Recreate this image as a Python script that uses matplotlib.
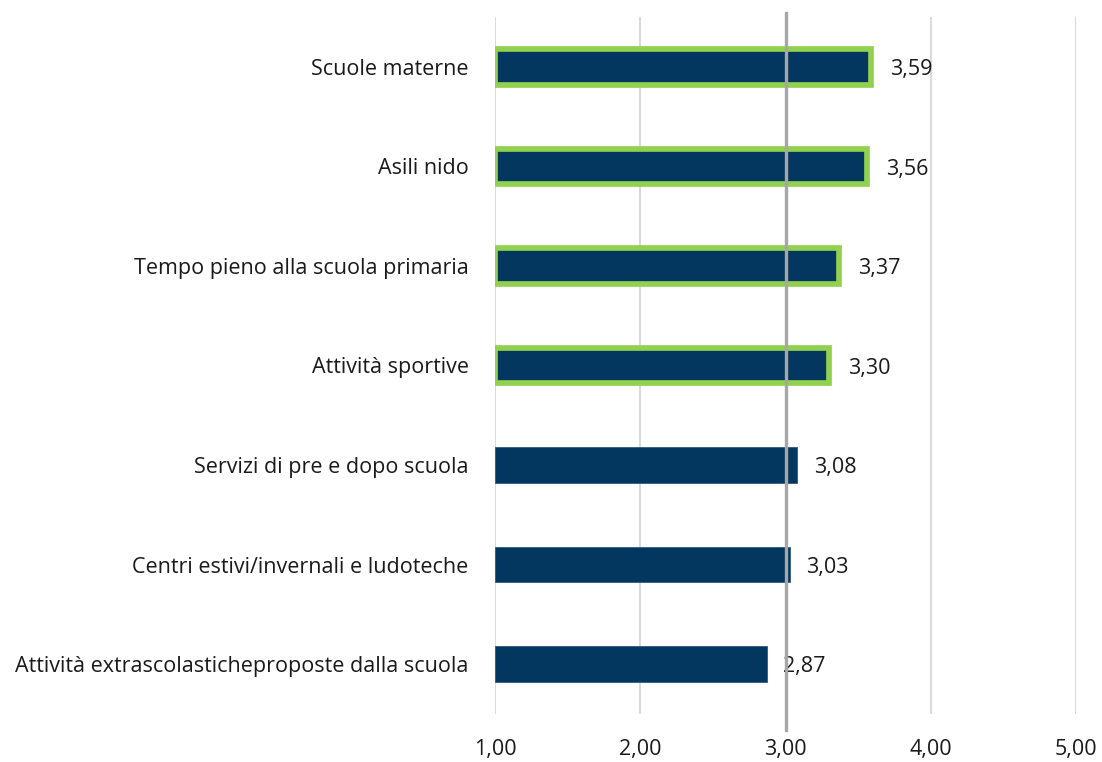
import matplotlib
matplotlib.use("Agg")
import matplotlib.pyplot as plt

plt.rcParams['font.family'] = ['Open Sans', 'DejaVu Sans']

categories = [
    "Scuole materne",
    "Asili nido",
    "Tempo pieno alla scuola primaria",
    "Attività sportive",
    "Servizi di pre e dopo scuola",
    "Centri estivi/invernali e ludoteche",
    "Attività extrascolasticheproposte dalla scuola",
]
values = [3.59, 3.56, 3.37, 3.30, 3.08, 3.03, 2.87]
highlighted = [True, True, True, True, False, False, False]
x_ticks = [1.0, 2.0, 3.0, 4.0, 5.0]
reference = 3.0

BAR = "#03375F"
GREEN = "#92D050"
TXT = "#1A1A1A"
FS = 15.5

fig = plt.figure(figsize=(11.02, 7.62), dpi=100)
ax = fig.add_axes([0.4492, 0.0633, 0.9764 - 0.4492, 0.9774 - 0.0633])

ypos = list(range(len(categories)))
base = x_ticks[0]
for y, v, hl in zip(ypos, values, highlighted):
    if hl:
        ax.barh(y, v - base, left=base, height=0.36, color=BAR,
                edgecolor=GREEN, linewidth=4.1, zorder=2)
        off = 13.5
    else:
        ax.barh(y, v - base, left=base, height=0.36, color=BAR,
                edgecolor="#2E5A85", linewidth=0.6, zorder=2)
        off = 12
    ax.annotate(f"{v:.2f}".replace(".", ","), xy=(v, y), xytext=(off, -2),
                textcoords="offset points", ha="left", va="center",
                fontsize=FS, color=TXT, zorder=3)

ax.set_xlim(x_ticks[0], x_ticks[-1])
ax.set_ylim(len(categories) - 0.5, -0.5)
ax.set_yticks(ypos)
ax.set_yticklabels(categories, fontsize=FS, color=TXT)
ax.set_xticks(x_ticks)
ax.set_xticklabels([f"{t:.2f}".replace(".", ",") for t in x_ticks],
                   fontsize=FS, color=TXT)
ax.tick_params(axis="both", length=0)
ax.tick_params(axis="y", pad=19)
ax.tick_params(axis="x", pad=18)

for s in ax.spines.values():
    s.set_visible(False)
ax.set_axisbelow(True)
ax.grid(axis="x", color="#DADADA", linewidth=1.5)
ax.grid(axis="y", visible=False)

ax.axvline(reference, ymin=-0.0233, ymax=1.0066, color="#A6A6A6",
           linewidth=2.4, zorder=4, clip_on=False)

fig.savefig("out.png", dpi=100, facecolor="white")
